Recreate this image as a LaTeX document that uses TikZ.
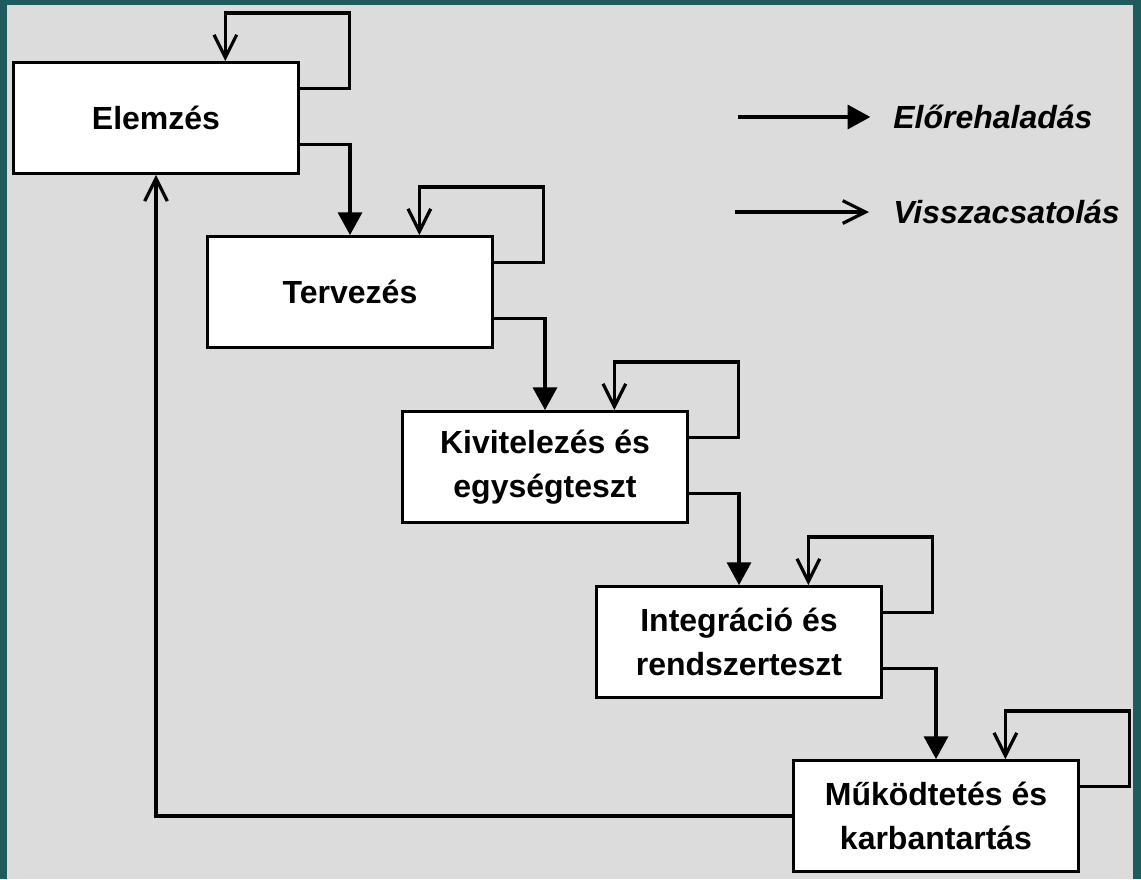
\documentclass[tikz,border=0pt]{standalone}
\usepackage{fontspec}
\setmainfont{Liberation Sans}
\usetikzlibrary{arrows.meta}
\definecolor{frameteal}{HTML}{1F5A5C}
\definecolor{sheetgray}{HTML}{DCDCDC}

\begin{document}
\begin{tikzpicture}[x=0.75pt,y=-0.75pt,
    phase/.style ={rectangle, draw, fill=white, line width=2.4pt,
      minimum width=214pt, minimum height=83pt, align=center,
      font=\fontsize{24}{33}\selectfont\bfseries},
    legendtext/.style ={anchor=west, inner sep=0pt,
      font=\fontsize{24}{33}\selectfont\bfseries\itshape},
    fwd/.style ={line width=2.4pt, -{Triangle[length=17pt,width=18pt]}},
    fb/.style ={line width=2.4pt, -{Straight Barb[length=17pt,width=17pt]}}]
   % frame and sheet
   \fill[frameteal] (0,0) rectangle (1141,879);
   \fill[sheetgray] (7,5) rectangle (1133,879);
   \useasboundingbox (0,0) rectangle (1141,879);

   \node[phase] (elemzes) at (156,118) {Elemzés};
   \node[phase] (tervezes) at (350,292) {Tervezés};
   \node[phase] (kivitel) at (545,467) {Kivitelezés és\\egységteszt};
   \node[phase] (integr) at (739,642) {Integráció és\\rendszerteszt};
   \node[phase] (mukodt) at (936,816) {Működtetés és\\karbantartás};

   % forward steps
   \draw[fwd] ([yshift=-20pt]elemzes.east) -| (tervezes.north);
   \draw[fwd] ([yshift=-20pt]tervezes.east) -| (kivitel.north);
   \draw[fwd] ([yshift=-20pt]kivitel.east) -| (integr.north);
   \draw[fwd] ([yshift=-20pt]integr.east) -| (mukodt.north);

   % feedback loops
   \draw[fb] ([yshift=22pt]elemzes.east) -- ++(49,0)
      |- ([xshift=52pt,yshift=36pt]elemzes.north) -- ([xshift=52pt]elemzes.north);
   \draw[fb] ([yshift=22pt]tervezes.east) -- ++(49,0)
      |- ([xshift=52pt,yshift=36pt]tervezes.north) -- ([xshift=52pt]tervezes.north);
   \draw[fb] ([yshift=22pt]kivitel.east) -- ++(49,0)
      |- ([xshift=52pt,yshift=36pt]kivitel.north) -- ([xshift=52pt]kivitel.north);
   \draw[fb] ([yshift=22pt]integr.east) -- ++(49,0)
      |- ([xshift=52pt,yshift=36pt]integr.north) -- ([xshift=52pt]integr.north);
   \draw[fb] ([yshift=22pt]mukodt.east) -- ++(49,0)
      |- ([xshift=52pt,yshift=36pt]mukodt.north) -- ([xshift=52pt]mukodt.north);
   \draw[fb] (mukodt.west) -| (elemzes.south);

   % legend
   \node[legendtext] (elore) at (893,117) {Előrehaladás};
   \node[legendtext] (vissza) at (893,212) {Visszacsatolás};
   \coordinate (leg1) at (738,117);
   \coordinate (leg2) at (735,212);
   \draw[fwd] (leg1) -- ([xshift=-17pt]elore.west);
   \draw[fb] (leg2) -- ([xshift=-18pt]vissza.west);
 \end{tikzpicture}
\end{document}
